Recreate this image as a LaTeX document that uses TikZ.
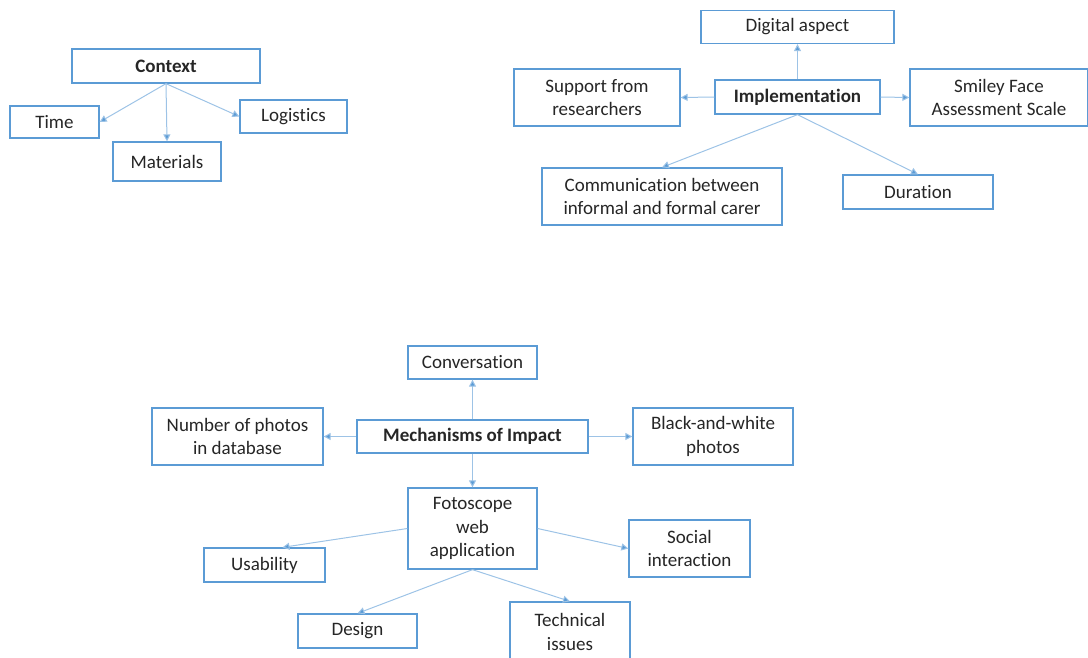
\documentclass[tikz,border=0pt]{standalone}
\usepackage{fontspec}
\setmainfont{Carlito}[Ligatures=NoCommon]
\usetikzlibrary{arrows.meta}

\definecolor{boxblue}{HTML}{5B9BD5}
\definecolor{lineblue}{HTML}{9DC3E6}

\begin{document}
\begin{tikzpicture}[x=1pt, y=-1pt,
  box/.style={draw=boxblue, line width=1.3pt, fill=white, align=center,
    inner sep=0pt, font=\fontsize{19}{23.5}\selectfont, text=black!85},
  hub/.style={box, font=\fontsize{19}{23.5}\selectfont\bfseries},
  link/.style={draw=lineblue, line width=1pt,
    -{Triangle[length=7pt, width=7pt, fill=boxblue]}},
]
  \useasboundingbox (0,0) rectangle (1088,657);
  % Context
  \node[hub, minimum width=188pt, minimum height=34pt] (ctx) at (166,66) {Context};
  \node[box, minimum width=89pt, minimum height=32pt] (time) at (54.5,122) {Time};
  \node[box, minimum width=108pt, minimum height=39pt] (mat) at (167,161.5) {Materials};
  \node[box, minimum width=107pt, minimum height=33pt] (logi) at (293.5,116.5) {Logistics};
  \foreach \t/\a in {time/east, mat/north, logi/west}
    \draw[link] (ctx.south) -- (\t.\a);
  % Implementation
  \node[hub, minimum width=165pt, minimum height=34pt] (impl) at (797.5,97) {Implementation};
  \node[box, minimum width=193pt, minimum height=33pt] (digi) at (797.5,27) {Digital aspect};
  \node[box, minimum width=166pt, minimum height=57pt] (supp) at (597,97.5) {Support from\\researchers};
  \node[box, minimum width=178pt, minimum height=57pt] (smil) at (999,97.5) {Smiley Face\\Assessment Scale};
  \node[box, minimum width=240pt, minimum height=57pt] (comm) at (662,196.5) {Communication between\\informal and formal carer};
  \node[box, minimum width=150pt, minimum height=34pt] (dur) at (918,192) {Duration};
  \draw[link] (impl.north) -- (digi.south);
  \draw[link] (impl.west) -- (supp.east);
  \draw[link] (impl.east) -- (smil.west);
  \foreach \t in {comm, dur}
    \draw[link] (impl.south) -- (\t.north);
  % Mechanisms of Impact
  \node[hub, minimum width=231pt, minimum height=33pt] (mech) at (472.5,436.5) {Mechanisms of Impact};
  \node[box, minimum width=129pt, minimum height=33pt] (conv) at (472.5,362.5) {Conversation};
  \node[box, minimum width=171pt, minimum height=57pt] (nphot) at (237.5,436.5) {Number of photos\\in database};
  \node[box, minimum width=160pt, minimum height=57pt] (bw) at (713,436.5) {Black-and-white\\photos};
  \node[box, minimum width=129pt, minimum height=81pt] (foto) at (472.5,528.5) {Fotoscope\\web\\application};
  \draw[link] (mech.north) -- (conv.south);
  \draw[link] (mech.west) -- (nphot.east);
  \draw[link] (mech.east) -- (bw.west);
  \draw[link] (mech.south) -- (foto.north);
  % Fotoscope
  \node[box, minimum width=121pt, minimum height=34pt] (usab) at (264.5,565) {Usability};
  \node[box, minimum width=121pt, minimum height=57pt] (soc) at (689.5,548.5) {Social\\interaction};
  \node[box, minimum width=119pt, minimum height=34pt] (des) at (357.5,631) {Design};
  \node[box, minimum width=120pt, minimum height=60pt] (tech) at (570,632) {Technical\\issues};
  \draw[link] (foto.west) -- ([xshift=18pt]usab.north);
  \draw[link] (foto.east) -- (soc.west);
  \foreach \t in {des, tech}
    \draw[link] (foto.south) -- (\t.north);
\end{tikzpicture}
\end{document}
